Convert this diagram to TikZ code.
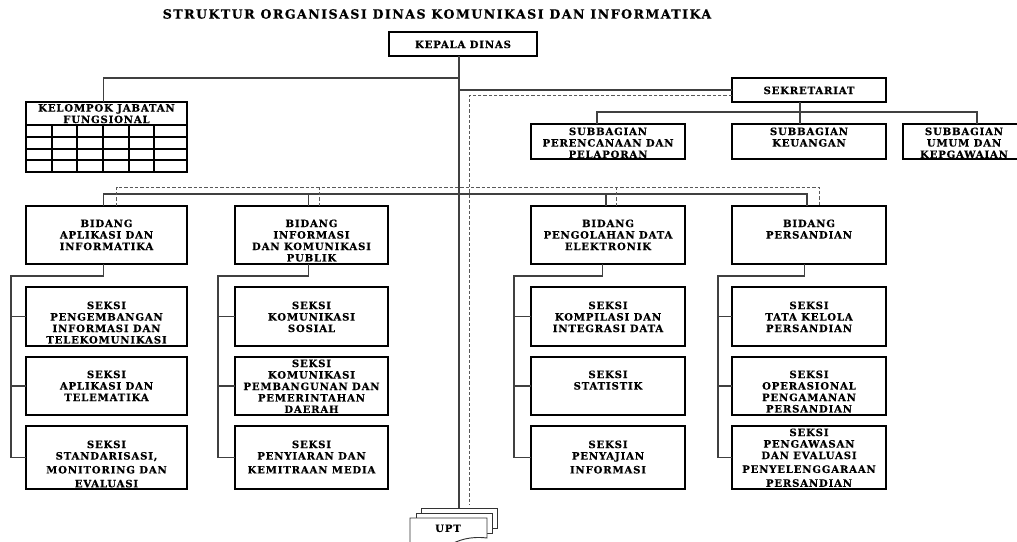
\documentclass[tikz,border=0pt]{standalone}
\usepackage{fontspec}
\newfontfamily\orgfont{DejaVu Serif}[UprightFont={* Bold},LetterSpace=8,FakeBold=0.4]
\newfontfamily\ttlfont{DejaVu Serif}[UprightFont={* Bold},LetterSpace=11,FakeBold=0.5]
\begin{document}
\begin{tikzpicture}[x=0.75pt,y=-0.75pt,
  box/.style={draw=black,line width=1.2pt,fill=white,inner sep=0pt,outer sep=0pt,anchor=north west},
  con/.style={draw=black!75,line width=0.8pt},
  dsh/.style={draw=black!65,line width=0.7pt,dash pattern=on 2.5pt off 1.5pt},
  txt/.style={font=\orgfont\fontsize{7.6}{8.6}\selectfont,align=center,anchor=north,inner sep=0pt},
  sheet/.style={draw=black!80,line width=0.7pt,fill=white}]
\newcommand\bx[5]{\node[box,minimum width={(#4-#2)*0.75pt},minimum height={(#5-#3)*0.75pt}] (#1) at (#2,#3) {};}
\newcommand\tx[3]{\node[txt] at (#1,#2-3.7) {#3};}
\clip (0,0) rectangle (1017,542);
\fill[white] (0,0) rectangle (1017,542);
% title
\node[font=\ttlfont\fontsize{9.5}{11}\selectfont,inner sep=0pt] (title) at (437,14) {STRUKTUR ORGANISASI DINAS KOMUNIKASI DAN INFORMATIKA};
% UPT back sheet (named for the connector)
\node[sheet,inner sep=0pt,outer sep=0pt,minimum width={76*0.75pt},minimum height={20*0.75pt},anchor=north west] (upt) at (421,508) {};
% boxes
\bx{kd}{389}{32}{537}{56}
\bx{sek}{732}{78}{886}{102}
\bx{sp}{531}{124}{685}{159}
\bx{sk}{732}{124}{886}{159}
\bx{su}{903}{124}{1025}{159}
\bx{kjf}{26}{102}{187}{172}
\bx{b1}{26}{206}{187}{264}
\bx{b2}{235}{206}{388}{264}
\bx{b3}{531}{206}{685}{264}
\bx{b4}{732}{206}{886}{264}
\bx{s11}{26}{287}{187}{346}
\bx{s12}{26}{357}{187}{415}
\bx{s13}{26}{426}{187}{489}
\bx{s21}{235}{287}{388}{346}
\bx{s22}{235}{357}{388}{415}
\bx{s23}{235}{426}{388}{489}
\bx{s31}{531}{287}{685}{346}
\bx{s32}{531}{357}{685}{415}
\bx{s33}{531}{426}{685}{489}
\bx{s41}{732}{287}{886}{346}
\bx{s42}{732}{357}{886}{415}
\bx{s43}{732}{426}{886}{489}
% KJF grid
\foreach \yy in {125,137,149,160} \draw[line width=1pt] (26,\yy) -- (187,\yy);
\foreach \xx in {52,77,103,129,154} \draw[line width=1pt] (\xx,125) -- (\xx,172);
% connectors
\draw[con,line width=1pt] (upt.north |- kd.south) -- (upt.north);
\coordinate (jk) at (459,78);
\draw[con] (jk) -| ([xshift=-2.5pt]kjf.north);
\draw[con] (sek.west) -- (sek.west -| upt.north);
\coordinate (sbus) at (800,112);
\draw[con] ([xshift=-6.75pt]sek.south) -- ([xshift=-6.75pt]sk.north);
\draw[con] ([xshift=-8.25pt]sp.north) |- (sbus) -| ([xshift=9.75pt]su.north);
\coordinate (bbus) at (459,194);
\draw[con] ([xshift=-2.5pt]b1.north) |- (bbus) -| ([xshift=-1.5pt]b4.north);
\draw[con] ([xshift=-2.5pt]b2.north) -- ([xshift=-2.5pt]b2.north |- bbus);
\draw[con] ([xshift=-1.5pt]b3.north) -- ([xshift=-1.5pt]b3.north |- bbus);
% dashed coordination lines
\coordinate (dend) at (469,505);
\coordinate (dbus) at (469,187);
\draw[dsh] ([yshift=-3.75pt]sek.west) -| (dend);
\draw[dsh] ([xshift=7.5pt]b1.north) |- (dbus) -| ([xshift=7.5pt]b4.north);
\draw[dsh] ([xshift=6pt]b2.north) -- ([xshift=6pt]b2.north |- dbus);
\draw[dsh] ([xshift=6pt]b3.north) -- ([xshift=6pt]b3.north |- dbus);
% seksi trees
\coordinate (t1) at (11,276);
\coordinate (t2) at (218,276);
\coordinate (t3) at (514,276);
\coordinate (t4) at (718,276);
\draw[con] ([xshift=-2.5pt]b1.south) |- (t1) |- (s13.west);
\draw[con] (s11.west) -- (s11.west -| t1);
\draw[con] (s12.west) -- (s12.west -| t1);
\draw[con] ([xshift=-2.5pt]b2.south) |- (t2) |- (s23.west);
\draw[con] (s21.west) -- (s21.west -| t2);
\draw[con] (s22.west) -- (s22.west -| t2);
\draw[con] ([xshift=-4pt]b3.south) |- (t3) |- (s33.west);
\draw[con] (s31.west) -- (s31.west -| t3);
\draw[con] (s32.west) -- (s32.west -| t3);
\draw[con] ([xshift=-3.5pt]b4.south) |- (t4) |- (s43.west);
\draw[con] (s41.west) -- (s41.west -| t4);
\draw[con] (s42.west) -- (s42.west -| t4);
% UPT stack
\draw[sheet] (416,513) rectangle (492,533);
\draw[sheet] (410,518) -- (487,518) -- (487,538) .. controls (470,536) and (458,540) .. (448,546) -- (410,546) -- cycle;
\node[txt] (upttxt) at (448,528-3.7) {UPT};
% texts
\tx{463}{44}{KEPALA DINAS}
\tx{809}{90}{SEKRETARIAT}
\tx{608}{131}{SUBBAGIAN\\PERENCANAAN DAN\\PELAPORAN}
\tx{809}{131}{SUBBAGIAN\\KEUANGAN}
\tx{964}{131}{SUBBAGIAN\\UMUM DAN\\KEPGAWAIAN}
\tx{106.5}{107.5}{KELOMPOK JABATAN\\FUNGSIONAL}
\tx{106.5}{223}{BIDANG\\APLIKASI DAN\\INFORMATIKA}
\tx{311.5}{223}{BIDANG\\INFORMASI\\DAN KOMUNIKASI\\PUBLIK}
\tx{608}{223}{BIDANG\\PENGOLAHAN DATA\\ELEKTRONIK}
\tx{809}{223}{BIDANG\\PERSANDIAN}
\tx{106.5}{305}{SEKSI\\PENGEMBANGAN\\INFORMASI DAN\\TELEKOMUNIKASI}
\tx{106.5}{374}{SEKSI\\APLIKASI DAN\\TELEMATIKA}
\tx{106.5}{444}{SEKSI\\STANDARISASI,\\[1.8pt]MONITORING DAN\\[1.8pt]EVALUASI}
\tx{311.5}{305}{SEKSI\\KOMUNIKASI\\SOSIAL}
\tx{311.5}{363}{SEKSI\\KOMUNIKASI\\PEMBANGUNAN DAN\\PEMERINTAHAN\\DAERAH}
\tx{311.5}{444}{SEKSI\\PENYIARAN DAN\\[1.8pt]KEMITRAAN MEDIA}
\tx{608}{305}{SEKSI\\KOMPILASI DAN\\INTEGRASI DATA}
\tx{608}{374}{SEKSI\\STATISTIK}
\tx{608}{444}{SEKSI\\PENYAJIAN\\[1.8pt]INFORMASI}
\tx{809}{305}{SEKSI\\TATA KELOLA\\PERSANDIAN}
\tx{809}{374}{SEKSI\\OPERASIONAL\\PENGAMANAN\\PERSANDIAN}
\tx{809}{432}{SEKSI\\PENGAWASAN\\DAN EVALUASI\\[1.8pt]PENYELENGGARAAN\\[1.8pt]PERSANDIAN}
\end{tikzpicture}
\end{document}
